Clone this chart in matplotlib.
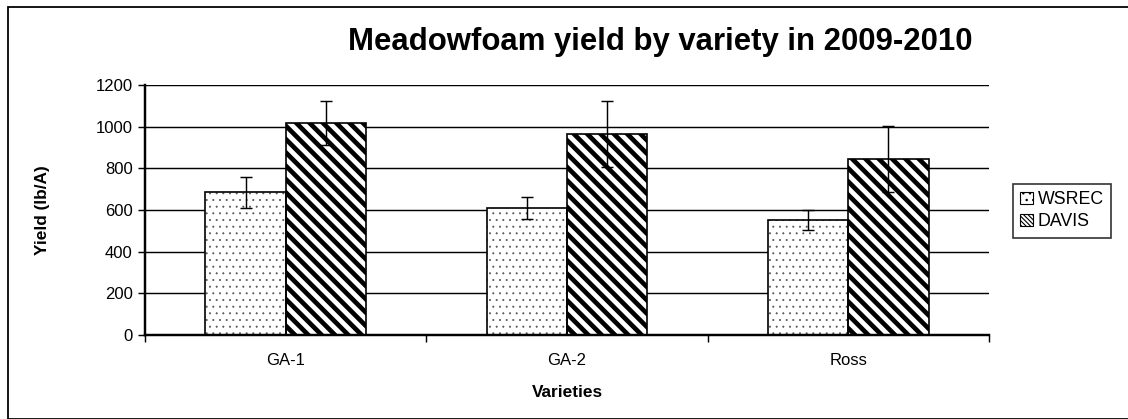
import numpy as np
import matplotlib
matplotlib.use("Agg")
import matplotlib.pyplot as plt
from matplotlib.patches import Rectangle, Patch

plt.rcParams['font.family'] = ['Liberation Sans', 'DejaVu Sans']

varieties = ['GA-1', 'GA-2', 'Ross']
wsrec = [686, 610, 552]
wsrec_err = [74, 52, 48]
davis = [1018, 965, 845]
davis_err = [105, 157, 158]
yticks = [0, 200, 400, 600, 800, 1000, 1200]

W, H, DPI = 1128, 419, 80
fig = plt.figure(figsize=(W / DPI, H / DPI), dpi=DPI)
ax = fig.add_axes([145 / W, 1 - 335 / H, (989 - 145) / W, 250 / H])

x = np.arange(len(varieties))
bw = 0.285


def hatched_bars(xpos, vals, hatch, hlw, hcolor):
    # pattern layer first, then a plain black outline on top
    with plt.rc_context({'hatch.linewidth': hlw}):
        bars = ax.bar(xpos, vals, bw, color='white', edgecolor=hcolor,
                      linewidth=0, hatch=hatch, zorder=2)
    for b in bars:
        if hasattr(b, 'set_hatch_linewidth'):
            b.set_hatch_linewidth(hlw)
    ax.bar(xpos, vals, bw, fill=False, edgecolor='black', linewidth=1.5, zorder=2.1)
    return bars


hatched_bars(x - bw / 2, wsrec, '..', 0.6, '#555555')
hatched_bars(x + bw / 2, davis, '\\\\', 4.2, 'black')

ax.errorbar(x - bw / 2, wsrec, yerr=wsrec_err, fmt='none', ecolor='black',
            elinewidth=1.3, capsize=5, capthick=1.3, zorder=3)
ax.errorbar(x + bw / 2, davis, yerr=davis_err, fmt='none', ecolor='black',
            elinewidth=1.3, capsize=5, capthick=1.3, zorder=3)

ax.set_xlim(-0.5, len(varieties) - 0.5)
ax.set_ylim(0, 1200)
ax.set_yticks(yticks)
ax.yaxis.grid(True, color='black', linewidth=1.3, zorder=0)
ax.set_axisbelow(True)

# category boundaries carry the tick marks, names sit between them
ax.set_xticks(np.arange(len(varieties) + 1) - 0.5)
ax.set_xticklabels([])
ax.set_xticks(x, minor=True)
ax.set_xticklabels(varieties, minor=True, fontsize=15)
ax.tick_params(axis='x', which='minor', length=0, pad=16)
ax.tick_params(axis='x', which='major', direction='out', length=6, width=1.3)
ax.tick_params(axis='y', direction='out', length=6, width=1.3, labelsize=15, pad=5)

for s in ['top', 'right']:
    ax.spines[s].set_visible(False)
ax.spines['left'].set_linewidth(2.2)
ax.spines['bottom'].set_linewidth(2.2)

ax.set_xlabel('Varieties', fontsize=15.5, fontweight='bold')
ax.xaxis.set_label_coords(0.5, -(393 - 335) / 250, transform=ax.transAxes)
ax.xaxis.label.set_va('center')
ax.set_ylabel('Yield (lb/A)', fontsize=15.5, fontweight='bold')
ax.yaxis.set_label_coords((50 - 145) / 844, 0.5, transform=ax.transAxes)

fig.text(660 / W, 1 - 50 / H, 'Meadowfoam yield by variety in 2009-2010',
         fontsize=28, fontweight='bold', ha='center', va='baseline')

handles = [Patch(facecolor='white', edgecolor='black', hatch='..', linewidth=1),
           Patch(facecolor='white', edgecolor='black', hatch='\\\\\\\\\\\\', linewidth=1)]
leg = fig.legend(handles, ['WSREC', 'DAVIS'], loc='upper left',
                 bbox_to_anchor=(1013 / W, 1 - 184 / H), fontsize=16,
                 frameon=True, fancybox=False, edgecolor='black',
                 handlelength=0.7, handleheight=0.7, handletextpad=0.3,
                 borderpad=0.4, labelspacing=0.3, borderaxespad=0)
leg.get_frame().set_linewidth(1.5)

# outer chart frame
fig.patches.append(Rectangle((8 / W, 0), 1.2, 1 - 7 / H, transform=fig.transFigure,
                             fill=False, edgecolor='black', linewidth=1.6))

fig.savefig('out.png', dpi=DPI)
